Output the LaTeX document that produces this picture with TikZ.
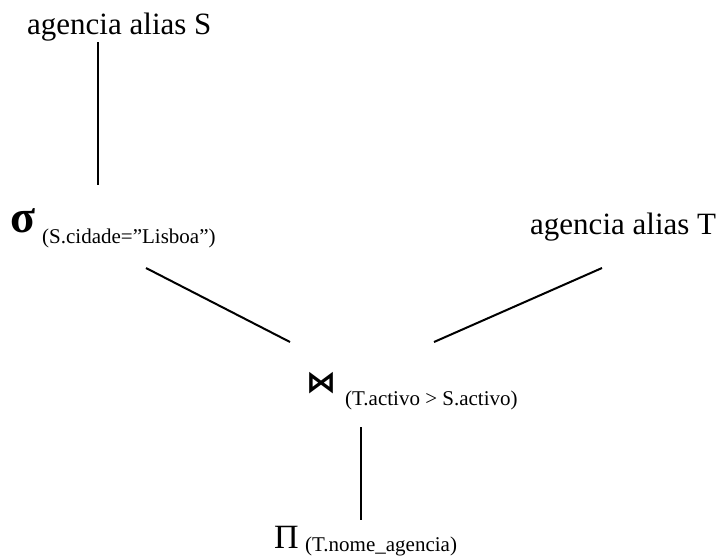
\documentclass[tikz,border=0pt]{standalone}
\usepackage{fontspec}
\setmainfont{Liberation Serif}
\newfontfamily\symfont{DejaVu Sans}
\tikzset{
  txt/.style={inner sep=0pt, anchor=base west, font=\fontsize{31}{36}\selectfont},
  subtxt/.style={inner sep=0pt, anchor=base west, font=\fontsize{21}{25}\selectfont},
  opsym/.style={inner sep=0pt, anchor=base west},
  edge/.style={line width=2pt}
}
\begin{document}
\begin{tikzpicture}[x=1pt,y=-1pt]
\useasboundingbox (0,0) rectangle (722,555);
% nodes
\node[txt] (S) at (27,34) {agencia alias S};
\node[opsym, font=\fontsize{46}{50}\selectfont\bfseries] (sel) at (10,232) {σ};
\node[subtxt] (selsub) at (42,243) {(S.cidade=”Lisboa”)};
\node[txt] (T) at (530,234) {agencia alias T};
\node[opsym, font=\fontsize{30}{34}\selectfont\symfont\bfseries] (join) at (306,392) {⋈};
\node[subtxt] (joinsub) at (345,405) {(T.activo > S.activo)};
\node[opsym, font=\fontsize{34}{38}\selectfont] (proj) at (274,548) {Π};
\node[subtxt] (projsub) at (305,551) {(T.nome\_agencia)};
% connector ends
\coordinate (s1) at (98,42);
\coordinate (s2) at (98,185);
\coordinate (l1) at (146,268);
\coordinate (l2) at (290,342);
\coordinate (r1) at (602,268);
\coordinate (r2) at (434,342);
\coordinate (p1) at (361,427);
\coordinate (p2) at (361,520);
\draw[edge] (s1) -- (s2);
\draw[edge] (l1) -- (l2);
\draw[edge] (r1) -- (r2);
\draw[edge] (p1) -- (p2);
\end{tikzpicture}
\end{document}
